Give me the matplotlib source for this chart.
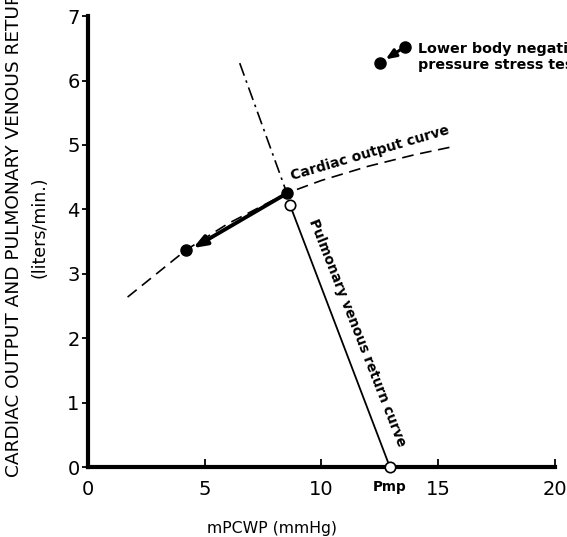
import matplotlib
matplotlib.use('Agg')
import matplotlib.pyplot as plt
import numpy as np

# Data
co_x = [1.7, 3.0, 4.2, 6.0, 8.5, 10.0, 12.0, 14.0, 15.7]
co_y = [2.64, 3.02, 3.37, 3.78, 4.25, 4.45, 4.67, 4.85, 4.98]

pv_x = [8.65, 12.93]
pv_y = [4.07, 0.0]

dashdot_x = [6.5, 8.52]
dashdot_y = [6.27, 4.25]

filled_x = [8.52, 4.2]
filled_y = [4.25, 3.37]

open_x = [8.65, 12.93]
open_y = [4.07, 0.0]

legend_x = [13.56, 12.5]
legend_y = [6.52, 6.27]

xticks = [0, 5, 10, 15, 20]
yticks = [0, 1, 2, 3, 4, 5, 6, 7]

fig = plt.figure(figsize=(5.67, 5.37), dpi=100)
ax = fig.add_axes([0.155, 0.130, 0.824, 0.840])

# cardiac output curve
ax.plot(co_x, co_y, color='black', lw=1.2, dashes=(7, 4))
# dash-dot line above the operating point
ax.plot(dashdot_x, dashdot_y, color='black', lw=1.2, dashes=(8, 3, 1.5, 3))
# pulmonary venous return curve
ax.plot(pv_x, pv_y, color='black', lw=1.3)

# arrow between the two operating points
ax.annotate('', xy=(4.5, 3.40), xytext=(filled_x[0], filled_y[0]),
            arrowprops=dict(arrowstyle='-|>,head_length=0.8,head_width=0.3',
                            color='black', lw=2.8, shrinkA=0, shrinkB=0))

ax.plot(filled_x, filled_y, 'o', color='black', ms=8, zorder=5)
ax.plot(open_x, open_y, 'o', mfc='white', mec='black', mew=1.2, ms=7.5,
        zorder=6, clip_on=False)

# legend symbol
ax.annotate('', xy=(legend_x[1] + 0.25, legend_y[1] + 0.06),
            xytext=(legend_x[0], legend_y[0]),
            arrowprops=dict(arrowstyle='-|>,head_length=0.6,head_width=0.25',
                            color='black', lw=2.2, shrinkA=0, shrinkB=0))
ax.plot(legend_x, legend_y, 'o', color='black', ms=8, zorder=5)
ax.text(14.13, 6.37, 'Lower body negative\npressure stress test',
        fontsize=10.3, fontweight='bold', va='center', ha='left',
        linespacing=1.15, clip_on=False)

ax.text(12.08, 4.88, 'Cardiac output curve', fontsize=10,
        fontweight='bold', rotation=16.4, ha='center', va='center')
ax.text(11.52, 2.08, 'Pulmonary venous return curve', fontsize=9.8,
        fontweight='bold', rotation=-68.5, ha='center', va='center')
ax.text(12.93, -0.31, 'Pmp', fontsize=9.8, fontweight='bold',
        ha='center', va='center')

ax.set_xlim(0, 20)
ax.set_ylim(0, 7)
ax.set_xticks(xticks)
ax.set_yticks(yticks)
ax.tick_params(axis='x', direction='in', length=6, width=1.3,
               labelsize=14, pad=9)
ax.tick_params(axis='y', direction='out', length=4, width=1.3,
               labelsize=14, pad=2)
for s in ['top', 'right']:
    ax.spines[s].set_visible(False)
for s in ['left', 'bottom']:
    ax.spines[s].set_linewidth(3)

fig.text(272 / 567, 1 - 528 / 537, 'mPCWP (mmHg)', fontsize=11.3,
         ha='center', va='center')
fig.text(14 / 567, 1 - 477 / 537,
         'CARDIAC OUTPUT AND PULMONARY VENOUS RETURN', fontsize=13.3,
         rotation=90, rotation_mode='anchor', ha='left', va='center')
fig.text(40 / 567, 1 - 227 / 537, '(liters/min.)', fontsize=12.5,
         rotation=90, ha='center', va='center')

fig.savefig('out.png', dpi=100)
